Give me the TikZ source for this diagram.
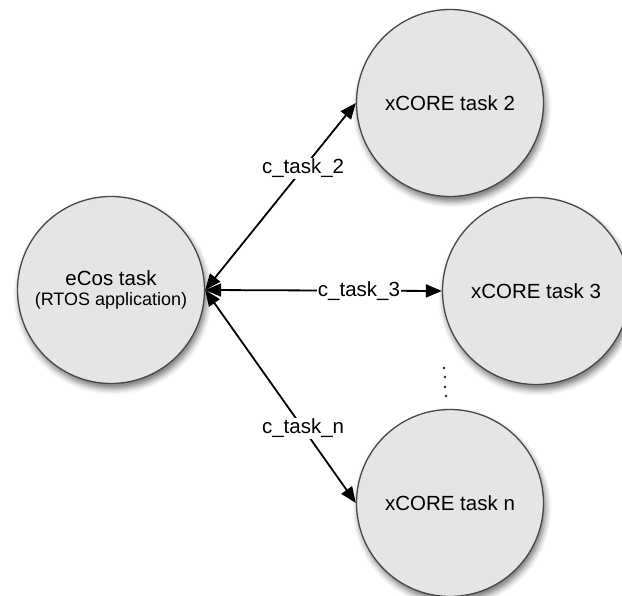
\documentclass[tikz,border=0pt]{standalone}
\usepackage{fontspec}
\setmainfont{Liberation Sans}
\usetikzlibrary{arrows.meta,shadows.blur}
\begin{document}
\begin{tikzpicture}[x=1pt,y=-1pt,
  task/.style={circle, draw=black!72, line width=1.3pt, fill=gray!20,
    minimum size=187pt, inner sep=0pt, align=center,
    font=\fontsize{20.5}{20}\selectfont,
    blur shadow={shadow xshift=2pt, shadow yshift=-5pt, shadow blur radius=6pt, shadow opacity=55}},
  conn/.style={{Triangle[length=16pt,width=13pt]}-{Triangle[length=16pt,width=13pt]}, line width=1.8pt},
  lbl/.style={fill=white, inner sep=1pt, font=\fontsize{20.5}{24}\selectfont}]
\useasboundingbox (0,0) rectangle (622,596);
\node[task] (ecos) at (111,290) {eCos task\\{\fontsize{18}{20}\selectfont (RTOS application)}};
\node[task] (x2) at (450,103) {xCORE task 2};
\node[task] (x3) at (536,291) {xCORE task 3};
\node[task] (xn) at (450,503) {xCORE task n};
\draw[conn] (ecos.east) -- node[lbl,pos=0.65]{c\_task\_2} (x2.west);
\draw[conn] (ecos.east) -- node[lbl,pos=0.65]{c\_task\_3} (x3.west);
\draw[conn] (ecos.east) -- node[lbl,pos=0.65]{c\_task\_n} (xn.west);
\foreach \p in {(444,368),(445,377),(445,387),(446,396)}
  \fill[black!85] \p circle (1.3);
\end{tikzpicture}
\end{document}
